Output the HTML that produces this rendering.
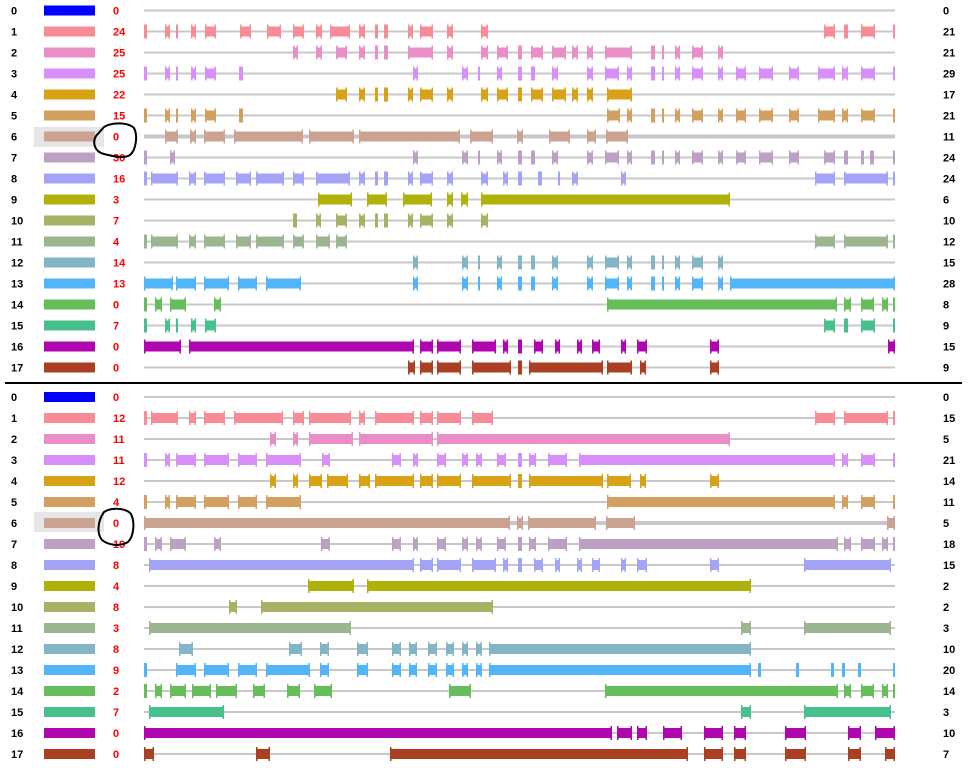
<!DOCTYPE html>
<html><head><meta charset="utf-8"><style>
html,body{margin:0;padding:0;background:#fff;width:973px;height:768px;overflow:hidden}
svg text{font-family:"Liberation Sans",sans-serif;font-weight:bold;font-size:11px}
</style></head><body>
<svg id="s" width="973" height="768" xmlns="http://www.w3.org/2000/svg">
<rect x="34" y="127" width="70" height="20" fill="#e6e6e6"/>
<rect x="34" y="512" width="70" height="20" fill="#e6e6e6"/>
<line x1="5" y1="383" x2="962" y2="383" stroke="#000" stroke-width="2"/>
<path d="M104,127 C112,122 128,122 134,128 C138,136 136,150 130,155 C124,159 112,156 104,154 C95,152 92,143 96,136 Z" fill="none" stroke="#000" stroke-width="2"/>
<path d="M104,512 C112,507 126,508 131,514 C135,522 134,536 128,542 C120,547 108,545 102,540 C97,534 97,522 104,512 Z" fill="none" stroke="#000" stroke-width="2"/>
</svg>
<script>
var C=["#0000ff","#f78b96","#ea8fc5","#d98ff9","#d9a115","#d4a060","#cca293","#bca1c5","#a4a4f6","#afb309","#a8b264","#9bb591","#82b6c7","#52b5f9","#65be5a","#48c08e","#b006b0","#aa3f22"];
var T={
cl:[0,24,25,25,22,15,0,30,16,3,7,4,14,13,0,7,0,0],
cr:[0,21,21,29,17,21,11,24,24,6,10,12,15,28,8,9,15,9],
y0:10.5,
s:[
"",
"144-147,165-170,176-178,191-196,205-216,240-251,267-281,293-304,316-322,330-350,359-365,375-378,384-388,408-413,420-433,447-453,481-488,824-835,844-848,861-875,893-895",
"293-298,316-322,336-347,359-365,375-378,384-388,408-433,447-453,481-488,497-508,518-522,531-543,552-566,572-578,587-593,605-632,651-655,662-664,675-680,692-703,718-723",
"144-147,165-170,176-178,191-196,205-216,239-243,413-418,462-468,478-480,497-502,518-522,531-535,552-558,587-593,605-619,627-632,651-655,662-664,675-680,692-703,718-723,736-746,759-773,789-799,818-835,842-848,861-875,893-895",
"336-347,359-365,375-378,384-388,408-413,420-433,447-453,481-488,497-508,518-522,531-543,552-566,572-578,587-593,607-632",
"144-147,165-170,176-178,191-196,205-216,239-243,607-620,627-632,651-655,662-664,675-680,692-703,718-723,736-746,759-773,789-799,818-835,842-848,861-875,893-895",
"165-178,190-196,204-225,234-303,309-354,359-460,470-493,517-523,549-570,587-596,606-628",
"144-147,170-175,413-418,462-468,478-480,497-502,518-522,531-535,552-558,587-593,605-619,627-632,651-655,662-664,675-680,692-703,718-723,736-746,759-773,789-799,824-835,844-848,861-864,870-874,893-895",
"144-147,151-178,189-196,204-225,236-251,256-284,293-304,316-350,359-365,375-378,384-388,408-413,420-433,447-453,481-488,503-508,518-522,538-542,558-560,572-578,621-626,815-835,844-888,893-895",
"318-352,367-387,403-432,447-453,461-468,481-730",
"293-297,316-321,336-347,359-365,375-378,384-388,408-413,420-433,447-453,481-488",
"144-147,151-178,189-196,204-225,236-251,256-284,293-304,316-330,336-347,815-835,844-888,893-895",
"413-418,462-468,478-480,497-502,518-522,531-535,552-558,587-593,605-619,627-632,651-655,662-664,675-680,692-703,718-723",
"144-173,176-196,204-229,238-257,266-301,413-418,462-468,478-480,497-502,518-522,531-535,552-558,587-593,605-619,627-632,651-655,662-664,675-680,692-703,718-723,730-895",
"144-147,155-162,170-186,214-221,607-837,844-851,861-874,882-888,893-895",
"144-147,165-170,176-178,191-196,205-216,824-835,844-848,861-875,893-895",
"144-181,189-414,420-433,437-461,472-496,503-508,518-522,534-543,555-560,577-582,592-600,621-626,637-647,710-719,888-895",
"408-415,420-433,437-461,472-511,518-522,529-603,607-632,640-646,710-719"]};
var B={
cl:[0,12,11,11,12,4,0,19,8,4,8,3,8,9,2,7,0,0],
cr:[0,15,5,21,14,11,5,18,15,2,2,3,10,20,14,3,10,7],
y0:397,
s:[
"",
"144-147,151-178,189-196,204-225,234-283,293-304,309-351,359-365,375-414,420-433,437-461,472-493,815-835,844-888,893-895",
"270-276,293-298,309-353,359-433,437-730",
"144-147,165-170,176-196,204-229,238-257,266-301,322-330,392-401,413-418,437-446,462-468,476-482,497-506,518-522,529-536,548-567,579-835,842-848,861-875,893-895",
"270-276,293-298,309-322,327-348,359-370,375-414,420-433,437-461,472-511,518-522,529-603,607-631,640-646,710-719",
"144-147,165-170,176-196,204-229,238-257,266-301,607-835,842-848,861-875,893-895",
"144-510,517-523,528-596,606-635,887-895",
"144-147,155-162,170-186,214-221,321-330,392-401,413-418,437-446,462-468,476-482,497-506,518-522,529-536,548-567,579-838,844-851,861-875,882-888,893-895",
"149-414,420-433,437-461,472-496,503-508,518-522,534-543,555-560,577-582,592-600,621-626,637-647,710-719,804-891",
"308-354,367-751",
"229-237,261-493",
"149-351,741-751,804-891",
"179-193,289-302,320-329,357-368,392-401,409-417,428-437,446-454,462-468,476-482,489-751",
"144-147,176-196,204-229,238-257,266-310,320-329,357-368,392-401,409-417,428-437,446-454,462-468,476-482,489-751,758-761,796-799,831-834,842-845,858-861,893-895",
"144-147,155-162,170-186,192-211,216-237,253-265,287-300,314-332,449-471,605-838,844-851,861-874,882-888,893-895",
"149-224,741-751,804-891",
"144-612,617-632,637-647,663-682,704-723,734-746,785-806,848-861,875-895",
"144-154,256-270,390-688,704-723,734-746,785-806,848-861,885-895"]};
var svg=document.getElementById("s"),NS="http://www.w3.org/2000/svg",h="";
function panel(P){
 for(var r=0;r<18;r++){
  var y=P.y0+21*r;
  h+='<line x1="144" y1="'+y+'" x2="895" y2="'+y+'" stroke="#c8c8c8" stroke-width="'+(r==6?4:2)+'"/>';
  h+='<text x="11" y="'+(y+4)+'" fill="#000">'+r+'</text>';
  h+='<rect x="44" y="'+(y-5)+'" width="51" height="10" fill="'+C[r]+'"/>';
  h+='<text x="113" y="'+(y+4)+'" fill="#f00">'+P.cl[r]+'</text>';
  h+='<text x="943" y="'+(y+4)+'" fill="#000">'+P.cr[r]+'</text>';
  if(!P.s[r])continue;
  P.s[r].split(",").forEach(function(p){
   var a=p.split("-"),x1=+a[0],x2=+a[1],w=x2-x1;
   if(w<=4){h+='<rect x="'+x1+'" y="'+(y-7)+'" width="'+w+'" height="14" fill="'+C[r]+'"/>';return;}
   h+='<rect x="'+x1+'" y="'+(y-5)+'" width="'+w+'" height="10" fill="'+C[r]+'"/>';
   h+='<rect x="'+x1+'" y="'+(y-7)+'" width="1.5" height="14" fill="'+C[r]+'"/>';
   h+='<rect x="'+(x2-1.5)+'" y="'+(y-7)+'" width="1.5" height="14" fill="'+C[r]+'"/>';
  });
 }
}
panel(T);panel(B);
svg.insertAdjacentHTML("afterbegin",h.slice(0,0));
var g=document.createElementNS(NS,"g");g.innerHTML=h;
svg.insertBefore(g,svg.querySelector("line"));
</script>
</body></html>
